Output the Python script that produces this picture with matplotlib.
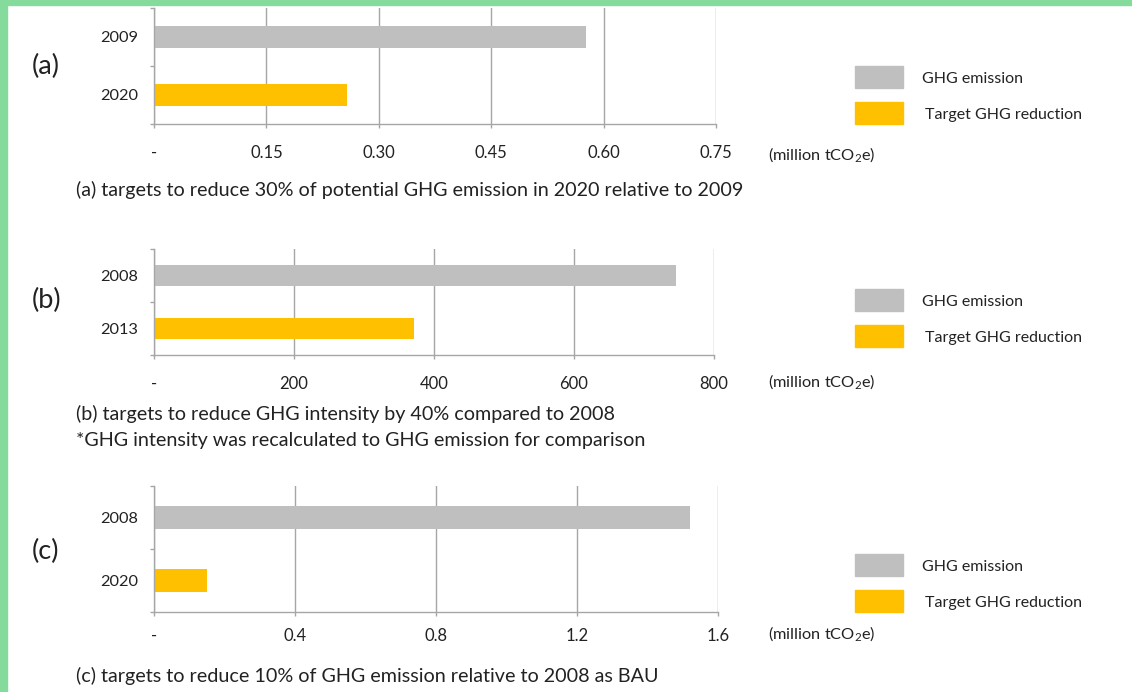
import matplotlib
matplotlib.use('Agg')
import matplotlib.pyplot as plt
from matplotlib.patches import Rectangle

plt.rcParams['font.family'] = ['Lato', 'DejaVu Sans']
plt.rcParams['mathtext.default'] = 'regular'

# data
years_a = ['2009', '2020']
values_a = [0.576, 0.257]
ticks_a = [0, 0.15, 0.30, 0.45, 0.60, 0.75]
ticklabels_a = ['-', '0.15', '0.30', '0.45', '0.60', '0.75']

years_b = ['2008', '2013']
values_b = [745, 372]
ticks_b = [0, 200, 400, 600, 800]
ticklabels_b = ['-', '200', '400', '600', '800']

years_c = ['2008', '2020']
values_c = [1.52, 0.15]
ticks_c = [0, 0.4, 0.8, 1.2, 1.6]
ticklabels_c = ['-', '0.4', '0.8', '1.2', '1.6']

series = ['GHG emission', 'Target GHG reduction']
colors = ['#bfbfbf', '#ffc000']

captions = [
    '(a) targets to reduce 30% of potential GHG emission in 2020 relative to 2009',
    '(b) targets to reduce GHG intensity by 40% compared to 2008\n'
    '*GHG intensity was recalculated to GHG emission for comparison',
    '(c) targets to reduce 10% of GHG emission relative to 2008 as BAU',
]
letters = ['(a)', '(b)', '(c)']
unit = '(million tCO$_2$e)'

W, H = 1132, 692
fig = plt.figure(figsize=(W / 100, H / 100), dpi=100)
fig.patch.set_facecolor('white')

# green frame on top and left
fig.patches.append(Rectangle((0, 1 - 5 / H), 1, 5 / H, transform=fig.transFigure,
                             color='#84db9b', zorder=0))
fig.patches.append(Rectangle((0, 0), 7 / W, 1, transform=fig.transFigure,
                             color='#84db9b', zorder=0))

# pixel layout: left, right, top, bottom of each axes, and text positions
panels = [
    dict(years=years_a, vals=values_a, ticks=ticks_a, tl=ticklabels_a,
         box=(154, 716, 8, 124), pad=12, unit_y=155, cap_y=190, let_y=66, leg_y=66),
    dict(years=years_b, vals=values_b, ticks=ticks_b, tl=ticklabels_b,
         box=(154, 714, 249, 355), pad=12, unit_y=382, cap_y=427, let_y=300, leg_y=289),
    dict(years=years_c, vals=values_c, ticks=ticks_c, tl=ticklabels_c,
         box=(154, 718, 486, 612), pad=8.5, unit_y=634, cap_y=676, let_y=551, leg_y=554),
]

grey = '#a6a6a6'
txt = '#222222'
for i, p in enumerate(panels):
    l, r, t, b = p['box']
    ax = fig.add_axes([l / W, 1 - b / H, (r - l) / W, (b - t) / H])
    bars = ax.barh(range(2), p['vals'], height=0.38, color=colors, zorder=2)
    ax.set_ylim(1.5, -0.5)
    ax.set_xlim(p['ticks'][0], p['ticks'][-1])
    ax.set_yticks(range(2))
    ax.set_yticklabels(p['years'], fontsize=11.8, color=txt)
    ax.set_yticks([-0.5, 0.5, 1.5], minor=True)
    ax.tick_params(axis='y', which='major', length=0, pad=11.5)
    ax.tick_params(axis='y', which='minor', length=3, color=grey, width=1)
    ax.set_xticks(p['ticks'])
    ax.set_xticklabels(p['tl'], fontsize=12, color=txt)
    ax.tick_params(axis='x', length=3, color=grey, width=1, pad=p['pad'])
    ax.grid(axis='x', color=grey, linewidth=1, zorder=1)
    for s in ['top', 'right']:
        ax.spines[s].set_visible(False)
    for s in ['left', 'bottom']:
        ax.spines[s].set_color(grey)
        ax.spines[s].set_linewidth(1)

    fig.text(768 / W, 1 - p['unit_y'] / H, unit, fontsize=11.8, color=txt,
             ha='left', va='center')
    fig.text(76 / W, 1 - p['cap_y'] / H, captions[i], fontsize=14.2, color=txt,
             ha='left', va='center', linespacing=1.58)
    fig.text(32 / W, 1 - p['let_y'] / H, letters[i], fontsize=19.5, color=txt,
             ha='left', va='center')

    # legend: one swatch per series, coloured like the bars
    for k, bar in enumerate(bars):
        top = p['leg_y'] + 36 * k
        fig.patches.append(Rectangle((855 / W, 1 - (top + 22) / H), 48 / W, 22 / H,
                                     transform=fig.transFigure,
                                     color=bar.get_facecolor()))
        fig.text((922 + 3 * k) / W, 1 - (top + 13) / H, series[k], fontsize=11.5,
                 color=txt, ha='left', va='center')

fig.savefig('out.png', dpi=100)
